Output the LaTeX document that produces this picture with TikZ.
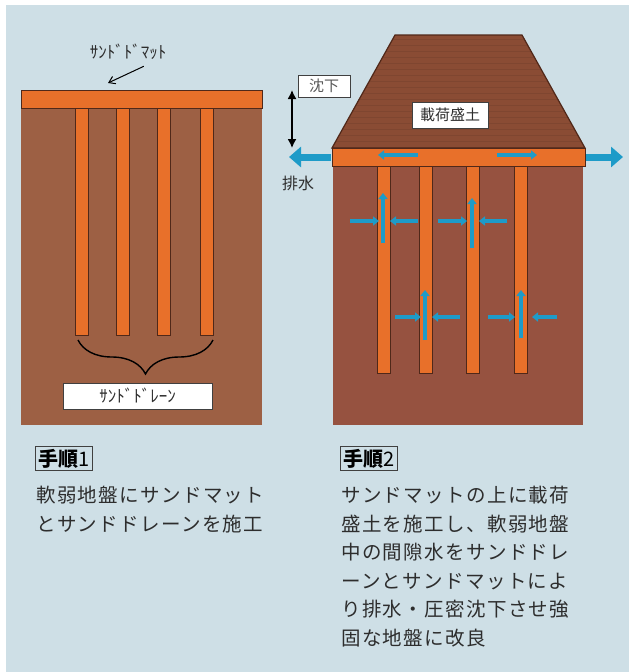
\documentclass[tikz,border=0pt]{standalone}
\usepackage{fontspec}
\setmainfont{Noto Sans CJK JP}
\newfontfamily\bodyfont{Noto Sans CJK JP}[LetterSpace=7]
\usetikzlibrary{arrows.meta,decorations.pathreplacing}
\definecolor{panelbg}{RGB}{206,223,230}
\definecolor{soilL}{RGB}{157,96,68}
\definecolor{soilR}{RGB}{150,82,64}
\definecolor{embank}{RGB}{138,76,52}
\definecolor{sandor}{RGB}{232,112,42}
\definecolor{edgebr}{RGB}{80,40,25}
\definecolor{waterbl}{RGB}{30,155,200}
\definecolor{inkgr}{RGB}{45,45,45}
\tikzset{
  drainbar/.style={fill=sandor,draw=edgebr,line width=0.8},
  matbar/.style={fill=sandor,draw=edgebr,line width=1},
  labelbox/.style={draw=black!75,fill=white,line width=1,inner sep=0pt},
  stepbox/.style={draw=black!75,line width=0.8,inner xsep=3pt,inner ysep=2.5pt,
    font=\fontsize{20}{22}\selectfont,text=black},
  flow/.style={draw=waterbl,line width=3.5,-{Triangle[length=6pt,width=9pt]}},
  outflow/.style={draw=waterbl,line width=7,-{Triangle[length=12pt,width=20pt]}},
  bodytxt/.style={anchor=north west,align=left,inner sep=0pt,text=inkgr,
    font=\bodyfont\fontsize{19.5}{28.5}\selectfont}
}
\begin{document}
\begin{tikzpicture}[x=1pt,y=-1pt]
\useasboundingbox (0,0) rectangle (629,672);
\fill[panelbg] (6,5) rectangle (629,672); %panel
%before loading: soft ground, drains, sand mat
\fill[soilL] (21,108) rectangle (262,425);
\foreach \x in {75,116,157,200}
  \draw[drainbar] (\x,108) rectangle ++(13,227);
\draw[matbar] (21,90) rectangle (262,108);
\node[font=\fontsize{17}{17}\selectfont,text=inkgr] (matlbl) at (128,52) {ｻﾝﾄﾞﾄﾞﾏｯﾄ};
\coordinate (matpt) at (108,83);
\draw[line width=1,-{Straight Barb[length=6pt,width=8pt]}] ([xshift=-26pt,yshift=-3pt]matlbl.south east) -- (matpt);
\draw[line width=1.4,decorate,decoration={brace,amplitude=34pt}] (213,340) -- (78,340); %brace
\node[labelbox,minimum width=149pt,minimum height=26pt,font=\fontsize{17}{17}\selectfont,text=inkgr]
  (drainlbl) at (137.5,396) {ｻﾝﾄﾞﾄﾞﾚｰﾝ};
%after loading: embankment on top
\fill[soilR] (333,165) rectangle (583,425);
\foreach \x in {377,419,466,514}
  \draw[drainbar] (\x,165) rectangle ++(13,208);
\draw[matbar] (332,148) rectangle (585,166);
\fill[embank] (332,148) -- (395,35) -- (522,35) -- (585,148) -- cycle;
\begin{scope}
  \clip (332,148) -- (395,35) -- (522,35) -- (585,148) -- cycle;
  \foreach \y in {39,45,...,147}
    \draw[embank!92!black,line width=0.6] (330,\y) -- (590,\y); %grain
\end{scope}
\draw[edgebr,line width=1.2] (332,148) -- (395,35) -- (522,35) -- (585,148) -- cycle;
\node[labelbox,minimum width=76pt,minimum height=26pt,font=\fontsize{15}{15}\selectfont,text=inkgr]
  (loadlbl) at (450,115) {載荷盛土};
\node[labelbox,minimum width=52pt,minimum height=22pt,font=\fontsize{15}{15}\selectfont,text=black!65]
  (settlelbl) at (324,86) {沈下};
\coordinate (settop) at (292,90);
\coordinate (setbot) at (292,148);
\draw[line width=1.5,{Latex[length=9pt,width=9pt]}-{Latex[length=9pt,width=9pt]}] (settop) -- (setbot);
%water out of the mat
\draw[outflow] (331,157) -- (289,157);
\draw[outflow] (586,157) -- (623,157);
\node[font=\fontsize{16}{16}\selectfont,text=inkgr] (drainout) at (298,183) {排水};
\draw[flow] (418,155) -- (378,155);
\draw[flow] (497,155) -- (537,155);
%pore water into the drains
\draw[flow] (350,221) -- (379,221);
\draw[flow] (418,221) -- (390,221);
\draw[flow] (438,221) -- (467,221);
\draw[flow] (507,221) -- (479,221);
\draw[flow] (383,243) -- (383,193);
\draw[flow] (472,248) -- (472,198);
\draw[flow] (395,317) -- (421,317);
\draw[flow] (460,317) -- (432,317);
\draw[flow] (488,317) -- (515,317);
\draw[flow] (557,317) -- (532,317);
\draw[flow] (425,340) -- (425,290);
\draw[flow] (521,338) -- (521,290);
%steps
\node[stepbox,anchor=north west] (step1) at (35,446) {\textbf{手順}1};
\node[bodytxt] (text1) at (36,486) {軟弱地盤にサンドマット\\とサンドドレーンを施工};
\node[stepbox,anchor=north west] (step2) at (340,446) {\textbf{手順}2};
\node[bodytxt] (text2) at (341,486) {サンドマットの上に載荷\\盛土を施工し、軟弱地盤\\中の間隙水をサンドドレ\\ーンとサンドマットによ\\り排水・圧密沈下させ強\\固な地盤に改良};
\end{tikzpicture}
\end{document}
